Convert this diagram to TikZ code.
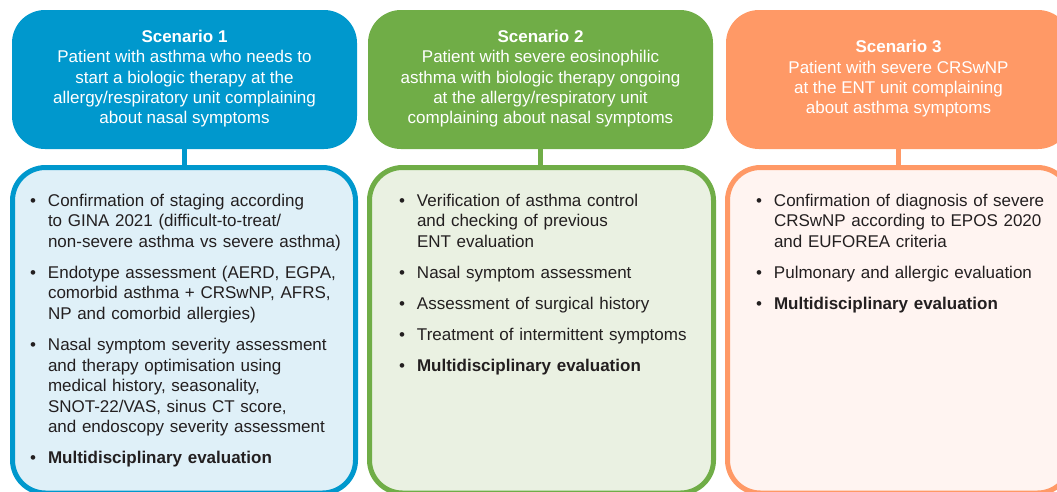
\documentclass[tikz,border=0pt]{standalone}
\usepackage{fontspec}
\setmainfont{Liberation Sans}
\definecolor{sblue}{HTML}{0098CD}
\definecolor{sgreen}{HTML}{70AD47}
\definecolor{sorange}{HTML}{FF9966}
\definecolor{lblue}{HTML}{DFF0F8}
\definecolor{lgreen}{HTML}{EAF1E2}
\definecolor{lorange}{HTML}{FFF4F1}
\definecolor{ink}{HTML}{231F20}
% bullet items with hanging indent; later items get extra space above
\newcommand\firstbul{\noindent\hangindent=18pt\hangafter=1\makebox[18pt][l]{\textbullet}}
\newcommand\bul{\par\vspace{10.4pt}\firstbul}
\newcommand\hstrut{\rule[-4.8pt]{0pt}{15.3pt}}
\begin{document}
\begin{tikzpicture}[x=1pt,y=-1pt,
  headbox/.style={rounded corners=33pt, minimum width=345pt, minimum height=139pt,
    inner sep=0pt, outer sep=0pt, text=white, align=center,
    font=\fontsize{17}{20.3}\selectfont},
  listbox/.style={rounded corners=33pt, line width=5pt, minimum height=325.5pt,
    inner sep=0pt, outer sep=0pt},
  listtext/.style={anchor=north west, inner sep=0pt, outer sep=0pt, text=ink,
    text width=335pt, align=left, font=\fontsize{17}{20.6}\selectfont},
  link/.style={line width=5pt}]
\useasboundingbox (0,0) rectangle (1057,491);
\clip (0,0) rectangle (1057,491);

% scenario headers
\node[headbox, fill=sblue] (t1) at (184.5,79.5) {\hstrut\textbf{Scenario 1}\\
  \hstrut Patient with asthma who needs to\\
  \hstrut start a biologic therapy at the\\
  \hstrut allergy/respiratory unit complaining\\
  \hstrut about nasal symptoms};
\node[headbox, fill=sgreen] (t2) at (540.5,79.5) {\hstrut\textbf{Scenario 2}\\
  \hstrut Patient with severe eosinophilic\\
  \hstrut asthma with biologic therapy ongoing\\
  \hstrut at the allergy/respiratory unit\\
  \hstrut complaining about nasal symptoms};
\node[headbox, fill=sorange] (t3) at (898.5,79.5) {\hstrut\textbf{Scenario 3}\\
  \hstrut Patient with severe CRSwNP\\
  \hstrut at the ENT unit complaining\\
  \hstrut about asthma symptoms};

% action boxes
\node[listbox, draw=sblue, fill=lblue, minimum width=343pt, anchor=north] (b1) at (184,167.5) {};
\node[listbox, draw=sgreen, fill=lgreen, minimum width=344pt, anchor=north] (b2) at (541.5,167.5) {};
\node[listbox, draw=sorange, fill=lorange, minimum width=343pt, anchor=north] (b3) at (899,167.5) {};

% connectors
\draw[link, sblue] (t1.south) -- (t1.south |- b1.north);
\draw[link, sgreen] (t2.south) -- (t2.south |- b2.north);
\draw[link, sorange] (t3.south) -- (t3.south |- b3.north);

% lists
\node[listtext] (l1) at (30,192) {\setlength\parskip{0pt}%
  \firstbul\rule{0pt}{14pt}Confirmation of staging according\newline
    to GINA 2021 (difficult-to-treat/\newline
    non-severe asthma vs severe asthma)
  \bul Endotype assessment (AERD, EGPA,\newline
    comorbid asthma + CRSwNP, AFRS,\newline
    NP and comorbid allergies)
  \bul Nasal symptom severity assessment\newline
    and therapy optimisation using\newline
    medical history, seasonality,\newline
    SNOT-22/VAS, sinus CT score,\newline
    and endoscopy severity assessment
  \bul\textbf{Multidisciplinary evaluation}\par};
\node[listtext] (l2) at (399,192) {\setlength\parskip{0pt}%
  \firstbul\rule{0pt}{14pt}Verification of asthma control\newline
    and checking of previous\newline
    ENT evaluation
  \bul Nasal symptom assessment
  \bul Assessment of surgical history
  \bul Treatment of intermittent symptoms
  \bul\textbf{Multidisciplinary evaluation}\par};
\node[listtext] (l3) at (756,192) {\setlength\parskip{0pt}%
  \firstbul\rule{0pt}{14pt}Confirmation of diagnosis of severe\newline
    CRSwNP according to EPOS 2020\newline
    and EUFOREA criteria
  \bul Pulmonary and allergic evaluation
  \bul\textbf{Multidisciplinary evaluation}\par};
\end{tikzpicture}
\end{document}
